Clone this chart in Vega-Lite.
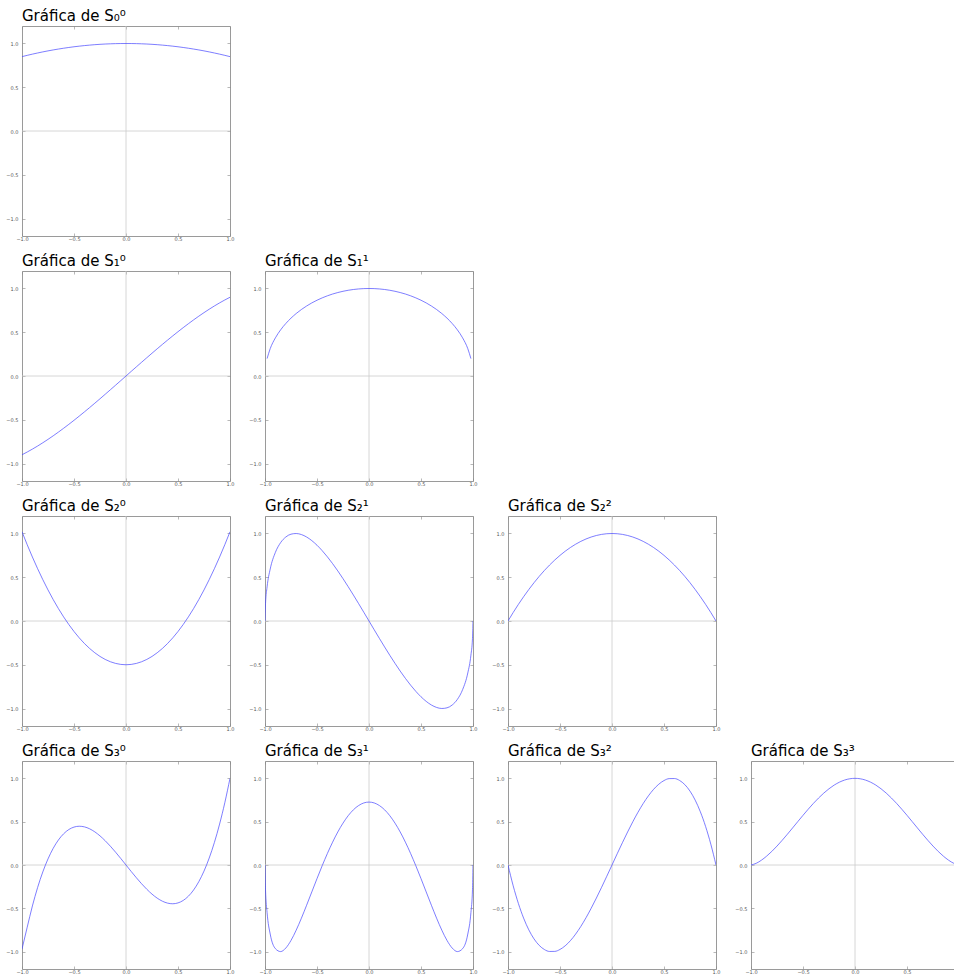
{
"$schema": "https://vega.github.io/schema/vega-lite/v6.json",
"padding": {"left": 5, "top": 8, "right": 0, "bottom": 0},
"background": "white",
"datasets": {"curves": [
{"f":"S00","x":-1,"y":0.85},{"f":"S00","x":-0.95,"y":0.8646},{"f":"S00","x":-0.9,"y":0.8785},{"f":"S00","x":-0.85,"y":0.8916},{"f":"S00","x":-0.8,"y":0.904},{"f":"S00","x":-0.75,"y":0.9156},{"f":"S00","x":-0.7,"y":0.9265},{"f":"S00","x":-0.65,"y":0.9366},{"f":"S00","x":-0.6,"y":0.946},{"f":"S00","x":-0.55,"y":0.9546},{"f":"S00","x":-0.5,"y":0.9625},{"f":"S00","x":-0.45,"y":0.9696},{"f":"S00","x":-0.4,"y":0.976},{"f":"S00","x":-0.35,"y":0.9816},{"f":"S00","x":-0.3,"y":0.9865},{"f":"S00","x":-0.25,"y":0.9906},{"f":"S00","x":-0.2,"y":0.994},{"f":"S00","x":-0.15,"y":0.9966},{"f":"S00","x":-0.1,"y":0.9985},{"f":"S00","x":-0.05,"y":0.9996},{"f":"S00","x":0,"y":1},{"f":"S00","x":0.05,"y":0.9996},{"f":"S00","x":0.1,"y":0.9985},{"f":"S00","x":0.15,"y":0.9966},{"f":"S00","x":0.2,"y":0.994},{"f":"S00","x":0.25,"y":0.9906},{"f":"S00","x":0.3,"y":0.9865},{"f":"S00","x":0.35,"y":0.9816},{"f":"S00","x":0.4,"y":0.976},{"f":"S00","x":0.45,"y":0.9696},{"f":"S00","x":0.5,"y":0.9625},{"f":"S00","x":0.55,"y":0.9546},{"f":"S00","x":0.6,"y":0.946},{"f":"S00","x":0.65,"y":0.9366},{"f":"S00","x":0.7,"y":0.9265},{"f":"S00","x":0.75,"y":0.9156},{"f":"S00","x":0.8,"y":0.904},{"f":"S00","x":0.85,"y":0.8916},{"f":"S00","x":0.9,"y":0.8785},{"f":"S00","x":0.95,"y":0.8646},{"f":"S00","x":1,"y":0.85},
{"f":"S10","x":-1,"y":-0.9},{"f":"S10","x":-0.95,"y":-0.8689},{"f":"S10","x":-0.9,"y":-0.8357},{"f":"S10","x":-0.85,"y":-0.8004},{"f":"S10","x":-0.8,"y":-0.7632},{"f":"S10","x":-0.75,"y":-0.7242},{"f":"S10","x":-0.7,"y":-0.6836},{"f":"S10","x":-0.65,"y":-0.6413},{"f":"S10","x":-0.6,"y":-0.5976},{"f":"S10","x":-0.55,"y":-0.5525},{"f":"S10","x":-0.5,"y":-0.5063},{"f":"S10","x":-0.45,"y":-0.4588},{"f":"S10","x":-0.4,"y":-0.4104},{"f":"S10","x":-0.35,"y":-0.3611},{"f":"S10","x":-0.3,"y":-0.311},{"f":"S10","x":-0.25,"y":-0.2602},{"f":"S10","x":-0.2,"y":-0.2088},{"f":"S10","x":-0.15,"y":-0.157},{"f":"S10","x":-0.1,"y":-0.1049},{"f":"S10","x":-0.05,"y":-0.0525},{"f":"S10","x":0,"y":0},{"f":"S10","x":0.05,"y":0.0525},{"f":"S10","x":0.1,"y":0.1049},{"f":"S10","x":0.15,"y":0.157},{"f":"S10","x":0.2,"y":0.2088},{"f":"S10","x":0.25,"y":0.2602},{"f":"S10","x":0.3,"y":0.311},{"f":"S10","x":0.35,"y":0.3611},{"f":"S10","x":0.4,"y":0.4104},{"f":"S10","x":0.45,"y":0.4588},{"f":"S10","x":0.5,"y":0.5063},{"f":"S10","x":0.55,"y":0.5525},{"f":"S10","x":0.6,"y":0.5976},{"f":"S10","x":0.65,"y":0.6413},{"f":"S10","x":0.7,"y":0.6836},{"f":"S10","x":0.75,"y":0.7242},{"f":"S10","x":0.8,"y":0.7632},{"f":"S10","x":0.85,"y":0.8004},{"f":"S10","x":0.9,"y":0.8357},{"f":"S10","x":0.95,"y":0.8689},{"f":"S10","x":1,"y":0.9},
{"f":"S11","x":-0.98,"y":0.199},{"f":"S11","x":-0.95,"y":0.3122},{"f":"S11","x":-0.9,"y":0.4359},{"f":"S11","x":-0.85,"y":0.5268},{"f":"S11","x":-0.8,"y":0.6},{"f":"S11","x":-0.75,"y":0.6614},{"f":"S11","x":-0.7,"y":0.7141},{"f":"S11","x":-0.65,"y":0.7599},{"f":"S11","x":-0.6,"y":0.8},{"f":"S11","x":-0.55,"y":0.8352},{"f":"S11","x":-0.5,"y":0.866},{"f":"S11","x":-0.45,"y":0.893},{"f":"S11","x":-0.4,"y":0.9165},{"f":"S11","x":-0.35,"y":0.9368},{"f":"S11","x":-0.3,"y":0.9539},{"f":"S11","x":-0.25,"y":0.9682},{"f":"S11","x":-0.2,"y":0.9798},{"f":"S11","x":-0.15,"y":0.9887},{"f":"S11","x":-0.1,"y":0.995},{"f":"S11","x":-0.05,"y":0.9988},{"f":"S11","x":0,"y":1},{"f":"S11","x":0.05,"y":0.9988},{"f":"S11","x":0.1,"y":0.995},{"f":"S11","x":0.15,"y":0.9887},{"f":"S11","x":0.2,"y":0.9798},{"f":"S11","x":0.25,"y":0.9682},{"f":"S11","x":0.3,"y":0.9539},{"f":"S11","x":0.35,"y":0.9368},{"f":"S11","x":0.4,"y":0.9165},{"f":"S11","x":0.45,"y":0.893},{"f":"S11","x":0.5,"y":0.866},{"f":"S11","x":0.55,"y":0.8352},{"f":"S11","x":0.6,"y":0.8},{"f":"S11","x":0.65,"y":0.7599},{"f":"S11","x":0.7,"y":0.7141},{"f":"S11","x":0.75,"y":0.6614},{"f":"S11","x":0.8,"y":0.6},{"f":"S11","x":0.85,"y":0.5268},{"f":"S11","x":0.9,"y":0.4359},{"f":"S11","x":0.95,"y":0.3122},{"f":"S11","x":0.98,"y":0.199},
{"f":"S20","x":-1,"y":1.02},{"f":"S20","x":-0.95,"y":0.8718},{"f":"S20","x":-0.9,"y":0.7312},{"f":"S20","x":-0.85,"y":0.5982},{"f":"S20","x":-0.8,"y":0.4728},{"f":"S20","x":-0.75,"y":0.355},{"f":"S20","x":-0.7,"y":0.2448},{"f":"S20","x":-0.65,"y":0.1422},{"f":"S20","x":-0.6,"y":0.0472},{"f":"S20","x":-0.55,"y":-0.0402},{"f":"S20","x":-0.5,"y":-0.12},{"f":"S20","x":-0.45,"y":-0.1922},{"f":"S20","x":-0.4,"y":-0.2568},{"f":"S20","x":-0.35,"y":-0.3138},{"f":"S20","x":-0.3,"y":-0.3632},{"f":"S20","x":-0.25,"y":-0.405},{"f":"S20","x":-0.2,"y":-0.4392},{"f":"S20","x":-0.15,"y":-0.4658},{"f":"S20","x":-0.1,"y":-0.4848},{"f":"S20","x":-0.05,"y":-0.4962},{"f":"S20","x":0,"y":-0.5},{"f":"S20","x":0.05,"y":-0.4962},{"f":"S20","x":0.1,"y":-0.4848},{"f":"S20","x":0.15,"y":-0.4658},{"f":"S20","x":0.2,"y":-0.4392},{"f":"S20","x":0.25,"y":-0.405},{"f":"S20","x":0.3,"y":-0.3632},{"f":"S20","x":0.35,"y":-0.3138},{"f":"S20","x":0.4,"y":-0.2568},{"f":"S20","x":0.45,"y":-0.1922},{"f":"S20","x":0.5,"y":-0.12},{"f":"S20","x":0.55,"y":-0.0402},{"f":"S20","x":0.6,"y":0.0472},{"f":"S20","x":0.65,"y":0.1422},{"f":"S20","x":0.7,"y":0.2448},{"f":"S20","x":0.75,"y":0.355},{"f":"S20","x":0.8,"y":0.4728},{"f":"S20","x":0.85,"y":0.5982},{"f":"S20","x":0.9,"y":0.7312},{"f":"S20","x":0.95,"y":0.8718},{"f":"S20","x":1,"y":1.02},
{"f":"S21","x":-1,"y":0},{"f":"S21","x":-0.995,"y":0.1987},{"f":"S21","x":-0.98,"y":0.39},{"f":"S21","x":-0.95,"y":0.5933},{"f":"S21","x":-0.9,"y":0.7846},{"f":"S21","x":-0.85,"y":0.8955},{"f":"S21","x":-0.8,"y":0.96},{"f":"S21","x":-0.75,"y":0.9922},{"f":"S21","x":-0.7,"y":0.9998},{"f":"S21","x":-0.65,"y":0.9879},{"f":"S21","x":-0.6,"y":0.96},{"f":"S21","x":-0.55,"y":0.9187},{"f":"S21","x":-0.5,"y":0.866},{"f":"S21","x":-0.45,"y":0.8037},{"f":"S21","x":-0.4,"y":0.7332},{"f":"S21","x":-0.35,"y":0.6557},{"f":"S21","x":-0.3,"y":0.5724},{"f":"S21","x":-0.25,"y":0.4841},{"f":"S21","x":-0.2,"y":0.3919},{"f":"S21","x":-0.15,"y":0.2966},{"f":"S21","x":-0.1,"y":0.199},{"f":"S21","x":-0.05,"y":0.0999},{"f":"S21","x":0,"y":0},{"f":"S21","x":0.05,"y":-0.0999},{"f":"S21","x":0.1,"y":-0.199},{"f":"S21","x":0.15,"y":-0.2966},{"f":"S21","x":0.2,"y":-0.3919},{"f":"S21","x":0.25,"y":-0.4841},{"f":"S21","x":0.3,"y":-0.5724},{"f":"S21","x":0.35,"y":-0.6557},{"f":"S21","x":0.4,"y":-0.7332},{"f":"S21","x":0.45,"y":-0.8037},{"f":"S21","x":0.5,"y":-0.866},{"f":"S21","x":0.55,"y":-0.9187},{"f":"S21","x":0.6,"y":-0.96},{"f":"S21","x":0.65,"y":-0.9879},{"f":"S21","x":0.7,"y":-0.9998},{"f":"S21","x":0.75,"y":-0.9922},{"f":"S21","x":0.8,"y":-0.96},{"f":"S21","x":0.85,"y":-0.8955},{"f":"S21","x":0.9,"y":-0.7846},{"f":"S21","x":0.95,"y":-0.5933},{"f":"S21","x":0.98,"y":-0.39},{"f":"S21","x":0.995,"y":-0.1987},{"f":"S21","x":1,"y":0},
{"f":"S22","x":-1,"y":0},{"f":"S22","x":-0.95,"y":0.0975},{"f":"S22","x":-0.9,"y":0.19},{"f":"S22","x":-0.85,"y":0.2775},{"f":"S22","x":-0.8,"y":0.36},{"f":"S22","x":-0.75,"y":0.4375},{"f":"S22","x":-0.7,"y":0.51},{"f":"S22","x":-0.65,"y":0.5775},{"f":"S22","x":-0.6,"y":0.64},{"f":"S22","x":-0.55,"y":0.6975},{"f":"S22","x":-0.5,"y":0.75},{"f":"S22","x":-0.45,"y":0.7975},{"f":"S22","x":-0.4,"y":0.84},{"f":"S22","x":-0.35,"y":0.8775},{"f":"S22","x":-0.3,"y":0.91},{"f":"S22","x":-0.25,"y":0.9375},{"f":"S22","x":-0.2,"y":0.96},{"f":"S22","x":-0.15,"y":0.9775},{"f":"S22","x":-0.1,"y":0.99},{"f":"S22","x":-0.05,"y":0.9975},{"f":"S22","x":0,"y":1},{"f":"S22","x":0.05,"y":0.9975},{"f":"S22","x":0.1,"y":0.99},{"f":"S22","x":0.15,"y":0.9775},{"f":"S22","x":0.2,"y":0.96},{"f":"S22","x":0.25,"y":0.9375},{"f":"S22","x":0.3,"y":0.91},{"f":"S22","x":0.35,"y":0.8775},{"f":"S22","x":0.4,"y":0.84},{"f":"S22","x":0.45,"y":0.7975},{"f":"S22","x":0.5,"y":0.75},{"f":"S22","x":0.55,"y":0.6975},{"f":"S22","x":0.6,"y":0.64},{"f":"S22","x":0.65,"y":0.5775},{"f":"S22","x":0.7,"y":0.51},{"f":"S22","x":0.75,"y":0.4375},{"f":"S22","x":0.8,"y":0.36},{"f":"S22","x":0.85,"y":0.2775},{"f":"S22","x":0.9,"y":0.19},{"f":"S22","x":0.95,"y":0.0975},{"f":"S22","x":1,"y":0},
{"f":"S30","x":-1,"y":-0.97},{"f":"S30","x":-0.95,"y":-0.7184},{"f":"S30","x":-0.9,"y":-0.4725},{"f":"S30","x":-0.85,"y":-0.2603},{"f":"S30","x":-0.8,"y":-0.08},{"f":"S30","x":-0.75,"y":0.0703},{"f":"S30","x":-0.7,"y":0.1925},{"f":"S30","x":-0.65,"y":0.2884},{"f":"S30","x":-0.6,"y":0.36},{"f":"S30","x":-0.55,"y":0.4091},{"f":"S30","x":-0.5,"y":0.4375},{"f":"S30","x":-0.45,"y":0.4472},{"f":"S30","x":-0.4,"y":0.44},{"f":"S30","x":-0.35,"y":0.4178},{"f":"S30","x":-0.3,"y":0.3825},{"f":"S30","x":-0.25,"y":0.3359},{"f":"S30","x":-0.2,"y":0.28},{"f":"S30","x":-0.15,"y":0.2166},{"f":"S30","x":-0.1,"y":0.1475},{"f":"S30","x":-0.05,"y":0.0747},{"f":"S30","x":0,"y":0},{"f":"S30","x":0.05,"y":-0.0747},{"f":"S30","x":0.1,"y":-0.1475},{"f":"S30","x":0.15,"y":-0.2166},{"f":"S30","x":0.2,"y":-0.28},{"f":"S30","x":0.25,"y":-0.3359},{"f":"S30","x":0.3,"y":-0.3825},{"f":"S30","x":0.35,"y":-0.4178},{"f":"S30","x":0.4,"y":-0.44},{"f":"S30","x":0.45,"y":-0.4472},{"f":"S30","x":0.5,"y":-0.4375},{"f":"S30","x":0.55,"y":-0.4091},{"f":"S30","x":0.6,"y":-0.36},{"f":"S30","x":0.65,"y":-0.2884},{"f":"S30","x":0.7,"y":-0.1925},{"f":"S30","x":0.75,"y":-0.0703},{"f":"S30","x":0.8,"y":0.08},{"f":"S30","x":0.85,"y":0.2603},{"f":"S30","x":0.9,"y":0.4725},{"f":"S30","x":0.95,"y":0.7184},{"f":"S30","x":1,"y":1},
{"f":"S31","x":-1,"y":0},{"f":"S31","x":-0.995,"y":-0.2864},{"f":"S31","x":-0.98,"y":-0.5493},{"f":"S31","x":-0.95,"y":-0.7963},{"f":"S31","x":-0.9,"y":-0.9652},{"f":"S31","x":-0.85,"y":-0.9991},{"f":"S31","x":-0.8,"y":-0.9583},{"f":"S31","x":-0.75,"y":-0.8704},{"f":"S31","x":-0.7,"y":-0.7518},{"f":"S31","x":-0.65,"y":-0.6138},{"f":"S31","x":-0.6,"y":-0.4646},{"f":"S31","x":-0.55,"y":-0.3107},{"f":"S31","x":-0.5,"y":-0.1572},{"f":"S31","x":-0.45,"y":-0.0081},{"f":"S31","x":-0.4,"y":0.1331},{"f":"S31","x":-0.35,"y":0.2635},{"f":"S31","x":-0.3,"y":0.381},{"f":"S31","x":-0.25,"y":0.483},{"f":"S31","x":-0.2,"y":0.569},{"f":"S31","x":-0.15,"y":0.637},{"f":"S31","x":-0.1,"y":0.686},{"f":"S31","x":-0.05,"y":0.716},{"f":"S31","x":0,"y":0.726},{"f":"S31","x":0.05,"y":0.716},{"f":"S31","x":0.1,"y":0.686},{"f":"S31","x":0.15,"y":0.637},{"f":"S31","x":0.2,"y":0.569},{"f":"S31","x":0.25,"y":0.483},{"f":"S31","x":0.3,"y":0.381},{"f":"S31","x":0.35,"y":0.2635},{"f":"S31","x":0.4,"y":0.1331},{"f":"S31","x":0.45,"y":-0.0081},{"f":"S31","x":0.5,"y":-0.1572},{"f":"S31","x":0.55,"y":-0.3107},{"f":"S31","x":0.6,"y":-0.4646},{"f":"S31","x":0.65,"y":-0.6138},{"f":"S31","x":0.7,"y":-0.7518},{"f":"S31","x":0.75,"y":-0.8704},{"f":"S31","x":0.8,"y":-0.9583},{"f":"S31","x":0.85,"y":-0.9991},{"f":"S31","x":0.9,"y":-0.9652},{"f":"S31","x":0.95,"y":-0.7963},{"f":"S31","x":0.98,"y":-0.5493},{"f":"S31","x":0.995,"y":-0.2864},{"f":"S31","x":1,"y":0},
{"f":"S32","x":-1,"y":0},{"f":"S32","x":-0.95,"y":-0.2406},{"f":"S32","x":-0.9,"y":-0.4443},{"f":"S32","x":-0.85,"y":-0.6128},{"f":"S32","x":-0.8,"y":-0.7482},{"f":"S32","x":-0.75,"y":-0.8525},{"f":"S32","x":-0.7,"y":-0.9275},{"f":"S32","x":-0.65,"y":-0.9753},{"f":"S32","x":-0.6,"y":-0.9977},{"f":"S32","x":-0.55,"y":-0.9967},{"f":"S32","x":-0.5,"y":-0.9743},{"f":"S32","x":-0.45,"y":-0.9324},{"f":"S32","x":-0.4,"y":-0.873},{"f":"S32","x":-0.35,"y":-0.7979},{"f":"S32","x":-0.3,"y":-0.7093},{"f":"S32","x":-0.25,"y":-0.6089},{"f":"S32","x":-0.2,"y":-0.4988},{"f":"S32","x":-0.15,"y":-0.3809},{"f":"S32","x":-0.1,"y":-0.2572},{"f":"S32","x":-0.05,"y":-0.1296},{"f":"S32","x":0,"y":0},{"f":"S32","x":0.05,"y":0.1296},{"f":"S32","x":0.1,"y":0.2572},{"f":"S32","x":0.15,"y":0.3809},{"f":"S32","x":0.2,"y":0.4988},{"f":"S32","x":0.25,"y":0.6089},{"f":"S32","x":0.3,"y":0.7093},{"f":"S32","x":0.35,"y":0.7979},{"f":"S32","x":0.4,"y":0.873},{"f":"S32","x":0.45,"y":0.9324},{"f":"S32","x":0.5,"y":0.9743},{"f":"S32","x":0.55,"y":0.9967},{"f":"S32","x":0.6,"y":0.9977},{"f":"S32","x":0.65,"y":0.9753},{"f":"S32","x":0.7,"y":0.9275},{"f":"S32","x":0.75,"y":0.8525},{"f":"S32","x":0.8,"y":0.7482},{"f":"S32","x":0.85,"y":0.6128},{"f":"S32","x":0.9,"y":0.4443},{"f":"S32","x":0.95,"y":0.2406},{"f":"S32","x":1,"y":0},
{"f":"S33","x":-1,"y":0},{"f":"S33","x":-0.95,"y":0.0194},{"f":"S33","x":-0.9,"y":0.0552},{"f":"S33","x":-0.85,"y":0.1019},{"f":"S33","x":-0.8,"y":0.1568},{"f":"S33","x":-0.75,"y":0.2184},{"f":"S33","x":-0.7,"y":0.2851},{"f":"S33","x":-0.65,"y":0.3553},{"f":"S33","x":-0.6,"y":0.4277},{"f":"S33","x":-0.55,"y":0.5008},{"f":"S33","x":-0.5,"y":0.5732},{"f":"S33","x":-0.45,"y":0.6436},{"f":"S33","x":-0.4,"y":0.7107},{"f":"S33","x":-0.35,"y":0.7732},{"f":"S33","x":-0.3,"y":0.8299},{"f":"S33","x":-0.25,"y":0.8798},{"f":"S33","x":-0.2,"y":0.922},{"f":"S33","x":-0.15,"y":0.9556},{"f":"S33","x":-0.1,"y":0.9801},{"f":"S33","x":-0.05,"y":0.995},{"f":"S33","x":0,"y":1},{"f":"S33","x":0.05,"y":0.995},{"f":"S33","x":0.1,"y":0.9801},{"f":"S33","x":0.15,"y":0.9556},{"f":"S33","x":0.2,"y":0.922},{"f":"S33","x":0.25,"y":0.8798},{"f":"S33","x":0.3,"y":0.8299},{"f":"S33","x":0.35,"y":0.7732},{"f":"S33","x":0.4,"y":0.7107},{"f":"S33","x":0.45,"y":0.6436},{"f":"S33","x":0.5,"y":0.5732},{"f":"S33","x":0.55,"y":0.5008},{"f":"S33","x":0.6,"y":0.4277},{"f":"S33","x":0.65,"y":0.3553},{"f":"S33","x":0.7,"y":0.2851},{"f":"S33","x":0.75,"y":0.2184},{"f":"S33","x":0.8,"y":0.1568},{"f":"S33","x":0.85,"y":0.1019},{"f":"S33","x":0.9,"y":0.0552},{"f":"S33","x":0.95,"y":0.0194},{"f":"S33","x":1,"y":0}
]},
"spacing": 11,
"vconcat": [
{"hconcat": [
{"title": "Gráfica de S₀⁰", "width": 208, "height": 210, "layer": [
{"data": {"values": [{"v": 0}]}, "mark": {"type": "rule", "color": "#cccccc", "strokeWidth": 0.8}, "encoding": {"x": {"field": "v", "type": "quantitative", "scale": {"domain": [-1, 1], "nice": false, "zero": false}, "axis": {"orient": "top", "labels": false, "values": [-1, -0.5, 0, 0.5, 1], "title": null}}}},
{"data": {"values": [{"v": 0}]}, "mark": {"type": "rule", "color": "#cccccc", "strokeWidth": 0.8}, "encoding": {"y": {"field": "v", "type": "quantitative", "scale": {"domain": [-1.2, 1.2], "nice": false, "zero": false}, "axis": {"orient": "right", "labels": false, "values": [-1, -0.5, 0, 0.5, 1], "title": null}}}},
{"data": {"name": "curves"}, "transform": [{"filter": {"field": "f", "equal": "S00"}}], "mark": {"type": "line", "color": "#4646ff", "strokeWidth": 0.7, "interpolate": "monotone", "clip": true}, "encoding": {"x": {"field": "x", "type": "quantitative", "scale": {"domain": [-1, 1], "nice": false, "zero": false}, "axis": {"orient": "bottom", "values": [-1, -0.5, 0, 0.5, 1], "format": ".1f", "title": null}}, "y": {"field": "y", "type": "quantitative", "scale": {"domain": [-1.2, 1.2], "nice": false, "zero": false}, "axis": {"orient": "left", "values": [-1, -0.5, 0, 0.5, 1], "format": ".1f", "title": null}}}}
], "resolve": {"axis": {"x": "independent", "y": "independent"}}}
], "spacing": 35, "bounds": "flush"},
{"hconcat": [
{"title": "Gráfica de S₁⁰", "width": 208, "height": 210, "layer": [
{"data": {"values": [{"v": 0}]}, "mark": {"type": "rule", "color": "#cccccc", "strokeWidth": 0.8}, "encoding": {"x": {"field": "v", "type": "quantitative", "scale": {"domain": [-1, 1], "nice": false, "zero": false}, "axis": {"orient": "top", "labels": false, "values": [-1, -0.5, 0, 0.5, 1], "title": null}}}},
{"data": {"values": [{"v": 0}]}, "mark": {"type": "rule", "color": "#cccccc", "strokeWidth": 0.8}, "encoding": {"y": {"field": "v", "type": "quantitative", "scale": {"domain": [-1.2, 1.2], "nice": false, "zero": false}, "axis": {"orient": "right", "labels": false, "values": [-1, -0.5, 0, 0.5, 1], "title": null}}}},
{"data": {"name": "curves"}, "transform": [{"filter": {"field": "f", "equal": "S10"}}], "mark": {"type": "line", "color": "#4646ff", "strokeWidth": 0.7, "interpolate": "monotone", "clip": true}, "encoding": {"x": {"field": "x", "type": "quantitative", "scale": {"domain": [-1, 1], "nice": false, "zero": false}, "axis": {"orient": "bottom", "values": [-1, -0.5, 0, 0.5, 1], "format": ".1f", "title": null}}, "y": {"field": "y", "type": "quantitative", "scale": {"domain": [-1.2, 1.2], "nice": false, "zero": false}, "axis": {"orient": "left", "values": [-1, -0.5, 0, 0.5, 1], "format": ".1f", "title": null}}}}
], "resolve": {"axis": {"x": "independent", "y": "independent"}}},
{"title": "Gráfica de S₁¹", "width": 208, "height": 210, "layer": [
{"data": {"values": [{"v": 0}]}, "mark": {"type": "rule", "color": "#cccccc", "strokeWidth": 0.8}, "encoding": {"x": {"field": "v", "type": "quantitative", "scale": {"domain": [-1, 1], "nice": false, "zero": false}, "axis": {"orient": "top", "labels": false, "values": [-1, -0.5, 0, 0.5, 1], "title": null}}}},
{"data": {"values": [{"v": 0}]}, "mark": {"type": "rule", "color": "#cccccc", "strokeWidth": 0.8}, "encoding": {"y": {"field": "v", "type": "quantitative", "scale": {"domain": [-1.2, 1.2], "nice": false, "zero": false}, "axis": {"orient": "right", "labels": false, "values": [-1, -0.5, 0, 0.5, 1], "title": null}}}},
{"data": {"name": "curves"}, "transform": [{"filter": {"field": "f", "equal": "S11"}}], "mark": {"type": "line", "color": "#4646ff", "strokeWidth": 0.7, "interpolate": "monotone", "clip": true}, "encoding": {"x": {"field": "x", "type": "quantitative", "scale": {"domain": [-1, 1], "nice": false, "zero": false}, "axis": {"orient": "bottom", "values": [-1, -0.5, 0, 0.5, 1], "format": ".1f", "title": null}}, "y": {"field": "y", "type": "quantitative", "scale": {"domain": [-1.2, 1.2], "nice": false, "zero": false}, "axis": {"orient": "left", "values": [-1, -0.5, 0, 0.5, 1], "format": ".1f", "title": null}}}}
], "resolve": {"axis": {"x": "independent", "y": "independent"}}}
], "spacing": 35, "bounds": "flush"},
{"hconcat": [
{"title": "Gráfica de S₂⁰", "width": 208, "height": 210, "layer": [
{"data": {"values": [{"v": 0}]}, "mark": {"type": "rule", "color": "#cccccc", "strokeWidth": 0.8}, "encoding": {"x": {"field": "v", "type": "quantitative", "scale": {"domain": [-1, 1], "nice": false, "zero": false}, "axis": {"orient": "top", "labels": false, "values": [-1, -0.5, 0, 0.5, 1], "title": null}}}},
{"data": {"values": [{"v": 0}]}, "mark": {"type": "rule", "color": "#cccccc", "strokeWidth": 0.8}, "encoding": {"y": {"field": "v", "type": "quantitative", "scale": {"domain": [-1.2, 1.2], "nice": false, "zero": false}, "axis": {"orient": "right", "labels": false, "values": [-1, -0.5, 0, 0.5, 1], "title": null}}}},
{"data": {"name": "curves"}, "transform": [{"filter": {"field": "f", "equal": "S20"}}], "mark": {"type": "line", "color": "#4646ff", "strokeWidth": 0.7, "interpolate": "monotone", "clip": true}, "encoding": {"x": {"field": "x", "type": "quantitative", "scale": {"domain": [-1, 1], "nice": false, "zero": false}, "axis": {"orient": "bottom", "values": [-1, -0.5, 0, 0.5, 1], "format": ".1f", "title": null}}, "y": {"field": "y", "type": "quantitative", "scale": {"domain": [-1.2, 1.2], "nice": false, "zero": false}, "axis": {"orient": "left", "values": [-1, -0.5, 0, 0.5, 1], "format": ".1f", "title": null}}}}
], "resolve": {"axis": {"x": "independent", "y": "independent"}}},
{"title": "Gráfica de S₂¹", "width": 208, "height": 210, "layer": [
{"data": {"values": [{"v": 0}]}, "mark": {"type": "rule", "color": "#cccccc", "strokeWidth": 0.8}, "encoding": {"x": {"field": "v", "type": "quantitative", "scale": {"domain": [-1, 1], "nice": false, "zero": false}, "axis": {"orient": "top", "labels": false, "values": [-1, -0.5, 0, 0.5, 1], "title": null}}}},
{"data": {"values": [{"v": 0}]}, "mark": {"type": "rule", "color": "#cccccc", "strokeWidth": 0.8}, "encoding": {"y": {"field": "v", "type": "quantitative", "scale": {"domain": [-1.2, 1.2], "nice": false, "zero": false}, "axis": {"orient": "right", "labels": false, "values": [-1, -0.5, 0, 0.5, 1], "title": null}}}},
{"data": {"name": "curves"}, "transform": [{"filter": {"field": "f", "equal": "S21"}}], "mark": {"type": "line", "color": "#4646ff", "strokeWidth": 0.7, "interpolate": "monotone", "clip": true}, "encoding": {"x": {"field": "x", "type": "quantitative", "scale": {"domain": [-1, 1], "nice": false, "zero": false}, "axis": {"orient": "bottom", "values": [-1, -0.5, 0, 0.5, 1], "format": ".1f", "title": null}}, "y": {"field": "y", "type": "quantitative", "scale": {"domain": [-1.2, 1.2], "nice": false, "zero": false}, "axis": {"orient": "left", "values": [-1, -0.5, 0, 0.5, 1], "format": ".1f", "title": null}}}}
], "resolve": {"axis": {"x": "independent", "y": "independent"}}},
{"title": "Gráfica de S₂²", "width": 208, "height": 210, "layer": [
{"data": {"values": [{"v": 0}]}, "mark": {"type": "rule", "color": "#cccccc", "strokeWidth": 0.8}, "encoding": {"x": {"field": "v", "type": "quantitative", "scale": {"domain": [-1, 1], "nice": false, "zero": false}, "axis": {"orient": "top", "labels": false, "values": [-1, -0.5, 0, 0.5, 1], "title": null}}}},
{"data": {"values": [{"v": 0}]}, "mark": {"type": "rule", "color": "#cccccc", "strokeWidth": 0.8}, "encoding": {"y": {"field": "v", "type": "quantitative", "scale": {"domain": [-1.2, 1.2], "nice": false, "zero": false}, "axis": {"orient": "right", "labels": false, "values": [-1, -0.5, 0, 0.5, 1], "title": null}}}},
{"data": {"name": "curves"}, "transform": [{"filter": {"field": "f", "equal": "S22"}}], "mark": {"type": "line", "color": "#4646ff", "strokeWidth": 0.7, "interpolate": "monotone", "clip": true}, "encoding": {"x": {"field": "x", "type": "quantitative", "scale": {"domain": [-1, 1], "nice": false, "zero": false}, "axis": {"orient": "bottom", "values": [-1, -0.5, 0, 0.5, 1], "format": ".1f", "title": null}}, "y": {"field": "y", "type": "quantitative", "scale": {"domain": [-1.2, 1.2], "nice": false, "zero": false}, "axis": {"orient": "left", "values": [-1, -0.5, 0, 0.5, 1], "format": ".1f", "title": null}}}}
], "resolve": {"axis": {"x": "independent", "y": "independent"}}}
], "spacing": 35, "bounds": "flush"},
{"hconcat": [
{"title": "Gráfica de S₃⁰", "width": 208, "height": 208, "layer": [
{"data": {"values": [{"v": 0}]}, "mark": {"type": "rule", "color": "#cccccc", "strokeWidth": 0.8}, "encoding": {"x": {"field": "v", "type": "quantitative", "scale": {"domain": [-1, 1], "nice": false, "zero": false}, "axis": {"orient": "top", "labels": false, "values": [-1, -0.5, 0, 0.5, 1], "title": null}}}},
{"data": {"values": [{"v": 0}]}, "mark": {"type": "rule", "color": "#cccccc", "strokeWidth": 0.8}, "encoding": {"y": {"field": "v", "type": "quantitative", "scale": {"domain": [-1.2, 1.2], "nice": false, "zero": false}, "axis": {"orient": "right", "labels": false, "values": [-1, -0.5, 0, 0.5, 1], "title": null}}}},
{"data": {"name": "curves"}, "transform": [{"filter": {"field": "f", "equal": "S30"}}], "mark": {"type": "line", "color": "#4646ff", "strokeWidth": 0.7, "interpolate": "monotone", "clip": true}, "encoding": {"x": {"field": "x", "type": "quantitative", "scale": {"domain": [-1, 1], "nice": false, "zero": false}, "axis": {"orient": "bottom", "values": [-1, -0.5, 0, 0.5, 1], "format": ".1f", "title": null}}, "y": {"field": "y", "type": "quantitative", "scale": {"domain": [-1.2, 1.2], "nice": false, "zero": false}, "axis": {"orient": "left", "values": [-1, -0.5, 0, 0.5, 1], "format": ".1f", "title": null}}}}
], "resolve": {"axis": {"x": "independent", "y": "independent"}}},
{"title": "Gráfica de S₃¹", "width": 208, "height": 208, "layer": [
{"data": {"values": [{"v": 0}]}, "mark": {"type": "rule", "color": "#cccccc", "strokeWidth": 0.8}, "encoding": {"x": {"field": "v", "type": "quantitative", "scale": {"domain": [-1, 1], "nice": false, "zero": false}, "axis": {"orient": "top", "labels": false, "values": [-1, -0.5, 0, 0.5, 1], "title": null}}}},
{"data": {"values": [{"v": 0}]}, "mark": {"type": "rule", "color": "#cccccc", "strokeWidth": 0.8}, "encoding": {"y": {"field": "v", "type": "quantitative", "scale": {"domain": [-1.2, 1.2], "nice": false, "zero": false}, "axis": {"orient": "right", "labels": false, "values": [-1, -0.5, 0, 0.5, 1], "title": null}}}},
{"data": {"name": "curves"}, "transform": [{"filter": {"field": "f", "equal": "S31"}}], "mark": {"type": "line", "color": "#4646ff", "strokeWidth": 0.7, "interpolate": "monotone", "clip": true}, "encoding": {"x": {"field": "x", "type": "quantitative", "scale": {"domain": [-1, 1], "nice": false, "zero": false}, "axis": {"orient": "bottom", "values": [-1, -0.5, 0, 0.5, 1], "format": ".1f", "title": null}}, "y": {"field": "y", "type": "quantitative", "scale": {"domain": [-1.2, 1.2], "nice": false, "zero": false}, "axis": {"orient": "left", "values": [-1, -0.5, 0, 0.5, 1], "format": ".1f", "title": null}}}}
], "resolve": {"axis": {"x": "independent", "y": "independent"}}},
{"title": "Gráfica de S₃²", "width": 208, "height": 208, "layer": [
{"data": {"values": [{"v": 0}]}, "mark": {"type": "rule", "color": "#cccccc", "strokeWidth": 0.8}, "encoding": {"x": {"field": "v", "type": "quantitative", "scale": {"domain": [-1, 1], "nice": false, "zero": false}, "axis": {"orient": "top", "labels": false, "values": [-1, -0.5, 0, 0.5, 1], "title": null}}}},
{"data": {"values": [{"v": 0}]}, "mark": {"type": "rule", "color": "#cccccc", "strokeWidth": 0.8}, "encoding": {"y": {"field": "v", "type": "quantitative", "scale": {"domain": [-1.2, 1.2], "nice": false, "zero": false}, "axis": {"orient": "right", "labels": false, "values": [-1, -0.5, 0, 0.5, 1], "title": null}}}},
{"data": {"name": "curves"}, "transform": [{"filter": {"field": "f", "equal": "S32"}}], "mark": {"type": "line", "color": "#4646ff", "strokeWidth": 0.7, "interpolate": "monotone", "clip": true}, "encoding": {"x": {"field": "x", "type": "quantitative", "scale": {"domain": [-1, 1], "nice": false, "zero": false}, "axis": {"orient": "bottom", "values": [-1, -0.5, 0, 0.5, 1], "format": ".1f", "title": null}}, "y": {"field": "y", "type": "quantitative", "scale": {"domain": [-1.2, 1.2], "nice": false, "zero": false}, "axis": {"orient": "left", "values": [-1, -0.5, 0, 0.5, 1], "format": ".1f", "title": null}}}}
], "resolve": {"axis": {"x": "independent", "y": "independent"}}},
{"title": "Gráfica de S₃³", "width": 208, "height": 208, "layer": [
{"data": {"values": [{"v": 0}]}, "mark": {"type": "rule", "color": "#cccccc", "strokeWidth": 0.8}, "encoding": {"x": {"field": "v", "type": "quantitative", "scale": {"domain": [-1, 1], "nice": false, "zero": false}, "axis": {"orient": "top", "labels": false, "values": [-1, -0.5, 0, 0.5, 1], "title": null}}}},
{"data": {"values": [{"v": 0}]}, "mark": {"type": "rule", "color": "#cccccc", "strokeWidth": 0.8}, "encoding": {"y": {"field": "v", "type": "quantitative", "scale": {"domain": [-1.2, 1.2], "nice": false, "zero": false}, "axis": {"orient": "right", "labels": false, "values": [-1, -0.5, 0, 0.5, 1], "title": null}}}},
{"data": {"name": "curves"}, "transform": [{"filter": {"field": "f", "equal": "S33"}}], "mark": {"type": "line", "color": "#4646ff", "strokeWidth": 0.7, "interpolate": "monotone", "clip": true}, "encoding": {"x": {"field": "x", "type": "quantitative", "scale": {"domain": [-1, 1], "nice": false, "zero": false}, "axis": {"orient": "bottom", "values": [-1, -0.5, 0, 0.5, 1], "format": ".1f", "title": null}}, "y": {"field": "y", "type": "quantitative", "scale": {"domain": [-1.2, 1.2], "nice": false, "zero": false}, "axis": {"orient": "left", "values": [-1, -0.5, 0, 0.5, 1], "format": ".1f", "title": null}}}}
], "resolve": {"axis": {"x": "independent", "y": "independent"}}}
], "spacing": 35, "bounds": "flush"}
],
"config": {
"view": {"stroke": "#9a9a9a", "strokeWidth": 1},
"title": {"anchor": "start", "frame": "group", "font": "DejaVu Sans", "fontSize": 15, "fontWeight": "normal", "color": "#000000", "offset": 2, "baseline": "alphabetic"},
"axis": {"grid": false, "domain": false, "tickSize": -3, "tickColor": "#888888", "tickWidth": 0.6, "labelFontSize": 5, "labelFont": "DejaVu Sans", "labelColor": "#555555", "labelPadding": 5, "labelFlush": false, "labelOverlap": false, "labelBound": false},
"axisBottom": {"labelPadding": 3},
"axisLeft": {"labelPadding": 7}
}
}
